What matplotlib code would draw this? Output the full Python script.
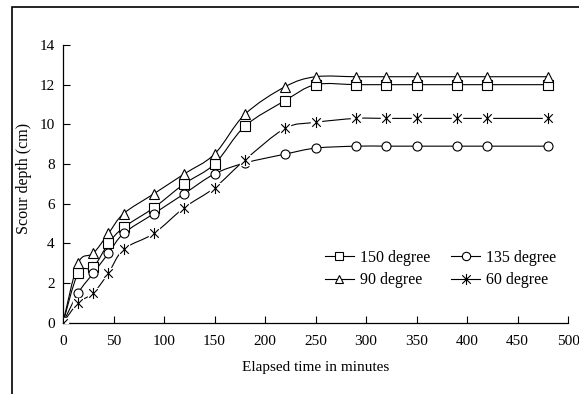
import numpy as np
import matplotlib
matplotlib.use("Agg")
from matplotlib import pyplot as plt
from matplotlib.path import Path
from matplotlib.patches import PathPatch, Rectangle
from matplotlib.lines import Line2D

# elapsed time (minutes)
minutes = [0, 15, 30, 45, 60, 90, 120, 150, 180, 220, 250, 290, 320, 350, 390, 420, 480]

# scour depth (cm) for each pier angle
deg150 = [0, 2.5, 2.8, 4.0, 4.8, 5.8, 7.0, 8.0, 9.9, 11.2, 12.0, 12.0, 12.0, 12.0, 12.0, 12.0, 12.0]
deg135 = [0, 1.5, 2.5, 3.5, 4.5, 5.5, 6.5, 7.5, 8.05, 8.5, 8.8, 8.9, 8.9, 8.9, 8.9, 8.9, 8.9]
deg90 = [0, 3.0, 3.5, 4.5, 5.5, 6.5, 7.5, 8.5, 10.5, 11.9, 12.4, 12.4, 12.4, 12.4, 12.4, 12.4, 12.4]
deg60 = [0, 1.0, 1.5, 2.5, 3.7, 4.5, 5.8, 6.8, 8.2, 9.8, 10.1, 10.3, 10.3, 10.3, 10.3, 10.3, 10.3]

labels = ["150 degree", "135 degree", "90 degree", "60 degree"]
x_ticks = [0, 50, 100, 150, 200, 250, 300, 350, 400, 450, 500]
y_ticks = [0, 2, 4, 6, 8, 10, 12, 14]

plt.rcParams["font.family"] = ["Liberation Serif", "DejaVu Serif"]

# excel-like star: an X with a vertical bar
star = Path(
    [(-1, -1), (1, 1), (-1, 1), (1, -1), (0, -1.3), (0, 1.3)],
    [Path.MOVETO, Path.LINETO, Path.MOVETO, Path.LINETO, Path.MOVETO, Path.LINETO],
)


def smooth_path(xs, ys):
    # catmull-rom style bezier, like excel's "smoothed line"
    pts = np.column_stack([xs, ys]).astype(float)
    n = len(pts)
    verts = [pts[0]]
    codes = [Path.MOVETO]
    for i in range(n - 1):
        p0 = pts[i - 1] if i > 0 else pts[i]
        p1 = pts[i]
        p2 = pts[i + 1]
        p3 = pts[i + 2] if i + 2 < n else pts[i + 1]
        verts += [p1 + (p2 - p0) / 6, p2 - (p3 - p1) / 6, p2]
        codes += [Path.CURVE4] * 3
    return Path(verts, codes)


fig = plt.figure(figsize=(5.79, 3.94), dpi=100)
ax = fig.add_axes([63 / 579, 1 - 322.7 / 394, 505 / 579, 277.7 / 394])

series = [deg150, deg135, deg90, deg60]
markers = ["s", "o", "^", star]
handles = []
for ys, m, lab in zip(series, markers, labels):
    ax.add_patch(PathPatch(smooth_path(minutes, ys), fill=False,
                           edgecolor="black", lw=0.8, zorder=2))
    if m is star:
        ax.plot(minutes, ys, ls="none", marker="s", ms=7.5, mfc="white",
                mec="white", zorder=3)
        ax.plot(minutes, ys, ls="none", marker=star, ms=8, mec="black",
                mew=0.8, zorder=4)
        h = Line2D([], [], color="black", lw=0.8, marker=star, ms=8, mew=0.8)
    else:
        ax.plot(minutes, ys, ls="none", marker=m, ms=6.5, mfc="white",
                mec="black", mew=0.8, zorder=3)
        h = Line2D([], [], color="black", lw=0.8, marker=m, ms=6,
                   mfc="white", mec="black", mew=0.8)
    handles.append(h)

ax.set_xlim(0, 500)
ax.set_ylim(0, 14)
ax.set_xticks(x_ticks)
ax.set_yticks(y_ticks)
ax.tick_params(direction="in", length=5, width=0.8, labelsize=11, pad=6)
ax.tick_params(axis="x", pad=9)
for s in ["top", "right"]:
    ax.spines[s].set_visible(False)
for s in ["left", "bottom"]:
    ax.spines[s].set_linewidth(0.9)
ax.set_xlabel("Elapsed time in minutes", fontsize=11, labelpad=9)
ax.set_ylabel("Scour depth (cm)", fontsize=11.5, labelpad=2)
ax.yaxis.set_label_coords(-0.062, 0.52)

ax.legend([handles[0], handles[2], handles[1], handles[3]],
          [labels[0], labels[2], labels[1], labels[3]],
          ncol=2, frameon=False, fontsize=11.5, loc="upper left",
          bbox_to_anchor=(325 / 579, 1 - 250 / 394), bbox_transform=fig.transFigure,
          borderpad=0, borderaxespad=0, handlelength=1.8, handletextpad=0.4,
          columnspacing=1.3, labelspacing=0.4)

fig.patches.append(Rectangle((12 / 579, -0.5), 2, 0.5 + 1 - 7 / 394,
                             transform=fig.transFigure, fill=False,
                             edgecolor="black", lw=1.2))

fig.savefig("out.png", dpi=100)
